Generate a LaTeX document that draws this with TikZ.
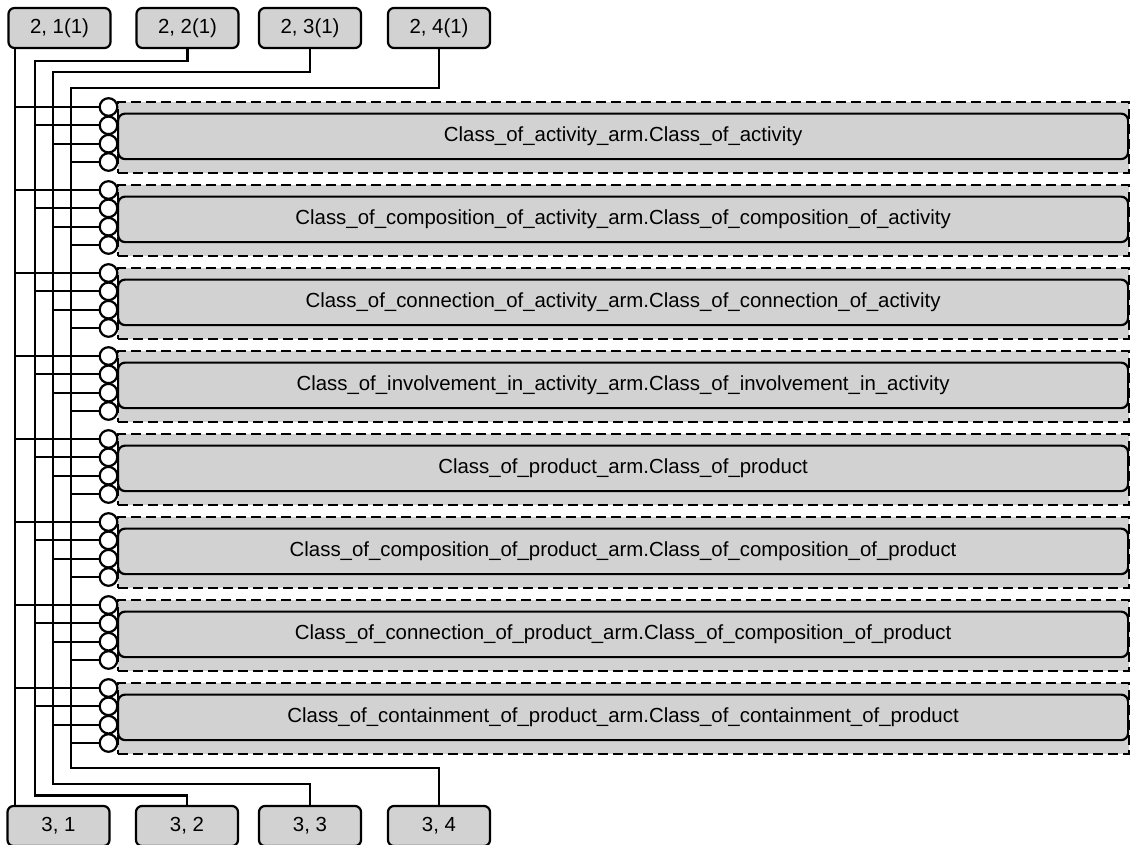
\documentclass[tikz,border=0pt]{standalone}
\usepackage{fontspec}
\setmainfont{Liberation Sans}
\definecolor{boxgray}{RGB}{210,210,210}
\tikzset{
  ln/.style={line width=2.2pt, line join=miter},
  labelbox/.style={draw, line width=2.2pt, fill=boxgray, rounded corners=6pt,
     minimum width=102pt, minimum height=40pt, inner sep=0pt, font=\fontsize{20.4}{24}\selectfont},
  grouprect/.style={draw, dashed, dash pattern=on 10pt off 5pt, line width=2.4pt, fill=boxgray,
     minimum width=1011pt, minimum height=71pt, inner sep=0pt, anchor=north west},
  entity/.style={draw, line width=2.2pt, fill=boxgray, rounded corners=7pt,
     minimum width=1010pt, minimum height=45.5pt, inner sep=0pt, anchor=north west,
     font=\fontsize{20.4}{24}\selectfont},
  port/.style={circle, draw, line width=2.2pt, fill=white, minimum size=17.6pt, inner sep=0pt}
}
\begin{document}
\begin{tikzpicture}[x=1pt, y=-1pt]
\useasboundingbox (0,0) rectangle (1131,844);
\clip (0,0) rectangle (1131,844);
\fill[white] (0,0) rectangle (1131,844);

% bus x positions
\coordinate (bus1) at (15,0);
\coordinate (bus2) at (35,0);
\coordinate (bus3) at (53,0);
\coordinate (bus4) at (71,0);

% top and bottom boxes
\node[labelbox] (t1) at (59.5,28) {2, 1(1)};
\node[labelbox] (t2) at (187.5,28) {2, 2(1)};
\node[labelbox] (t3) at (310,28) {2, 3(1)};
\node[labelbox] (t4) at (439,28) {2, 4(1)};
\node[labelbox] (b1) at (58.5,826) {3, 1};
\node[labelbox] (b2) at (187,826) {3, 2};
\node[labelbox] (b3) at (310,826) {3, 3};
\node[labelbox] (b4) at (439,826) {3, 4};

% bus lines
\draw[ln] (t1.south -| bus1) -- (b1.north -| bus1);
\draw[ln] (t2.south) -- (187.5,61) -- (35,61) -- (35,795.5) -- (187,795.5) -- (b2.north);
\draw[ln] (t3.south) -- (310,72) -- (53,72) -- (53,784) -- (310,784) -- (b3.north);
\draw[ln] (t4.south) -- (439,88) -- (71,88) -- (71,768) -- (439,768) -- (b4.north);

% groups
\foreach \k/\txt in {
 1/Class\_of\_activity\_arm.Class\_of\_activity,
 2/Class\_of\_composition\_of\_activity\_arm.Class\_of\_composition\_of\_activity,
 3/Class\_of\_connection\_of\_activity\_arm.Class\_of\_connection\_of\_activity,
 4/Class\_of\_involvement\_in\_activity\_arm.Class\_of\_involvement\_in\_activity,
 5/Class\_of\_product\_arm.Class\_of\_product,
 6/Class\_of\_composition\_of\_product\_arm.Class\_of\_composition\_of\_product,
 7/Class\_of\_connection\_of\_product\_arm.Class\_of\_composition\_of\_product,
 8/Class\_of\_containment\_of\_product\_arm.Class\_of\_containment\_of\_product}{
  \pgfmathsetmacro{\cy}{107+83*(\k-1)}
  \node[grouprect] (g\k) at (117,\cy-6.5) {};
  \node[entity] (n\k) at (117,\cy+5.5) {\txt};
  \foreach \j in {1,2,3,4}{
    \node[port] (c\k\j) at (108.5,\cy+18.33*\j-18.33) {};
    \draw[ln] (c\k\j.west -| bus\j) -- (c\k\j.west);
  }
}
\end{tikzpicture}
\end{document}
